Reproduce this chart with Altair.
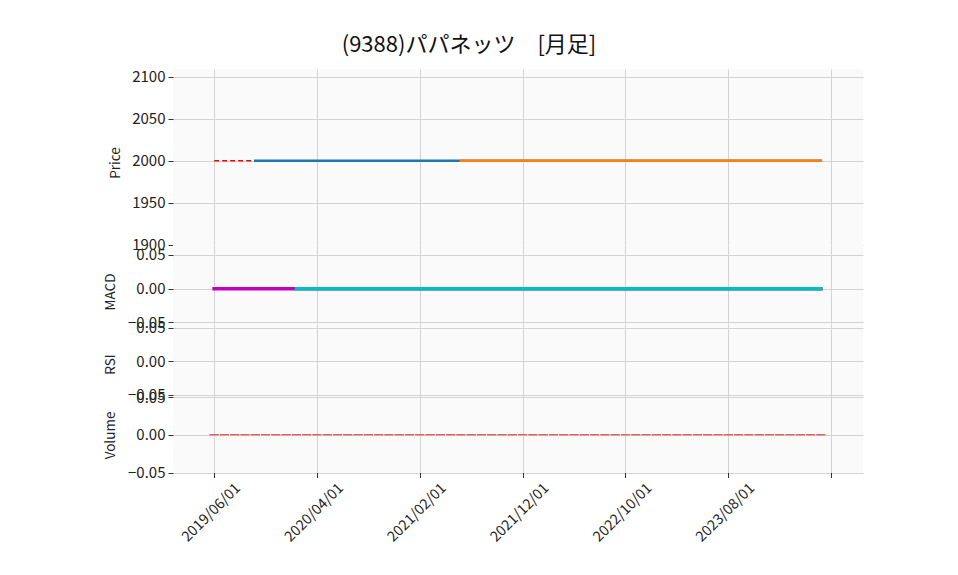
import altair as alt
import pandas as pd
import numpy as np

# ---------------- data ----------------
months = [
    "2019/06/01", "2019/07/01", "2019/08/01", "2019/09/01", "2019/10/01", "2019/11/01",
    "2019/12/01", "2020/01/01", "2020/02/01", "2020/03/01", "2020/04/01", "2020/05/01",
    "2020/06/01", "2020/07/01", "2020/08/01", "2020/09/01", "2020/10/01", "2020/11/01",
    "2020/12/01", "2021/01/01", "2021/02/01", "2021/03/01", "2021/04/01", "2021/05/01",
    "2021/06/01", "2021/07/01", "2021/08/01", "2021/09/01", "2021/10/01", "2021/11/01",
    "2021/12/01", "2022/01/01", "2022/02/01", "2022/03/01", "2022/04/01", "2022/05/01",
    "2022/06/01", "2022/07/01", "2022/08/01", "2022/09/01", "2022/10/01", "2022/11/01",
    "2022/12/01", "2023/01/01", "2023/02/01", "2023/03/01", "2023/04/01", "2023/05/01",
    "2023/06/01", "2023/07/01", "2023/08/01", "2023/09/01", "2023/10/01", "2023/11/01",
    "2023/12/01", "2024/01/01", "2024/02/01", "2024/03/01", "2024/04/01", "2024/05/01",
]
N = len(months)
nan = np.nan

close = [2000, 2000, 2000, 2000, 2000, 2000, 2000, 2000, 2000, 2000,
         2000, 2000, 2000, 2000, 2000, 2000, 2000, 2000, 2000, 2000,
         2000, 2000, 2000, 2000, 2000, 2000, 2000, 2000, 2000, 2000,
         2000, 2000, 2000, 2000, 2000, 2000, 2000, 2000, 2000, 2000,
         2000, 2000, 2000, 2000, 2000, 2000, 2000, 2000, 2000, 2000,
         2000, 2000, 2000, 2000, 2000, 2000, 2000, 2000, 2000, 2000]
ma5 = [nan, nan, nan, nan, 2000, 2000, 2000, 2000, 2000, 2000,
       2000, 2000, 2000, 2000, 2000, 2000, 2000, 2000, 2000, 2000,
       2000, 2000, 2000, 2000, 2000, 2000, 2000, 2000, 2000, 2000,
       2000, 2000, 2000, 2000, 2000, 2000, 2000, 2000, 2000, 2000,
       2000, 2000, 2000, 2000, 2000, 2000, 2000, 2000, 2000, 2000,
       2000, 2000, 2000, 2000, 2000, 2000, 2000, 2000, 2000, 2000]
ma25 = [nan, nan, nan, nan, nan, nan, nan, nan, nan, nan,
        nan, nan, nan, nan, nan, nan, nan, nan, nan, nan,
        nan, nan, nan, nan, 2000, 2000, 2000, 2000, 2000, 2000,
        2000, 2000, 2000, 2000, 2000, 2000, 2000, 2000, 2000, 2000,
        2000, 2000, 2000, 2000, 2000, 2000, 2000, 2000, 2000, 2000,
        2000, 2000, 2000, 2000, 2000, 2000, 2000, 2000, 2000, 2000]
macd = [0, 0, 0, 0, 0, 0, 0, 0, 0, 0,
        0, 0, 0, 0, 0, 0, 0, 0, 0, 0,
        0, 0, 0, 0, 0, 0, 0, 0, 0, 0,
        0, 0, 0, 0, 0, 0, 0, 0, 0, 0,
        0, 0, 0, 0, 0, 0, 0, 0, 0, 0,
        0, 0, 0, 0, 0, 0, 0, 0, 0, 0]
signal = [nan, nan, nan, nan, nan, nan, nan, nan, 0, 0,
          0, 0, 0, 0, 0, 0, 0, 0, 0, 0,
          0, 0, 0, 0, 0, 0, 0, 0, 0, 0,
          0, 0, 0, 0, 0, 0, 0, 0, 0, 0,
          0, 0, 0, 0, 0, 0, 0, 0, 0, 0,
          0, 0, 0, 0, 0, 0, 0, 0, 0, 0]
volume = [0, 0, 0, 0, 0, 0, 0, 0, 0, 0,
          0, 0, 0, 0, 0, 0, 0, 0, 0, 0,
          0, 0, 0, 0, 0, 0, 0, 0, 0, 0,
          0, 0, 0, 0, 0, 0, 0, 0, 0, 0,
          0, 0, 0, 0, 0, 0, 0, 0, 0, 0,
          0, 0, 0, 0, 0, 0, 0, 0, 0, 0]

x_ticks = [0, 10, 20, 30, 40, 50, 60]
x_tick_labels = [months[i] if i < N else "" for i in x_ticks]
price_ticks = [1900, 1950, 2000, 2050, 2100]
small_ticks = [-0.05, 0.0, 0.05]
title_text = "(9388)パパネッツ\u2002\u2002[月足]"

# long table: one row per (series, month)
series = {"close": close, "ma5": ma5, "ma25": ma25, "macd": macd,
          "signal": signal, "volume": volume}
rows = []
for name, vals in series.items():
    for i, v in enumerate(vals):
        rows.append({"series": name, "i": i, "month": months[i], "value": v,
                     "i0": i - 0.45, "i1": i + 0.45})
df = pd.DataFrame(rows)

FONT = "Noto Sans CJK JP"
W = 690
XDOM = [-4.0, 63.1]
GRID = "#d3d3d3"

label_expr = "[" + ",".join("'%s'" % s for s in x_tick_labels) + "][round(datum.value/10)]"

x_hidden = alt.Axis(values=x_ticks, labels=False, ticks=False, domain=False,
                    grid=True, gridColor=GRID, title=None)
x_bottom = alt.Axis(values=x_ticks, labelExpr=label_expr, labelAngle=-45,
                    labelAlign="center", labelBaseline="middle", labelPadding=35,
                    labelOffset=-3, ticks=True, tickSize=5, tickColor="#333",
                    domain=False, grid=True, gridColor=GRID, title=None,
                    labelFont=FONT, labelFontSize=14.5, labelColor="#222",
                    labelOverlap=False, labelFlush=False)


def yaxis(title, values, fmt, tx, ty):
    return alt.Axis(values=values, format=fmt, title=title, titleX=tx, titleY=ty,
                    titleAngle=-90, titleAlign="center", titleBaseline="middle",
                    titleFont=FONT, titleFontSize=13.5, titleFontWeight="normal",
                    titleColor="#222", labelFont=FONT, labelFontSize=15,
                    labelColor="#222", labelPadding=3, tickSize=5, tickColor="#333",
                    domain=False, grid=True, gridColor=GRID, labelOverlap=False,
                    labelFlush=False)


XS = alt.Scale(domain=XDOM, nice=False, zero=False)
base = alt.Chart(df)


def line_layer(name, y, color, width, dash=None):
    kw = dict(color=color, strokeWidth=width)
    if dash:
        kw["strokeDash"] = dash
    else:
        kw["strokeCap"] = "square"
    return base.transform_filter(alt.datum.series == name).mark_line(**kw).encode(
        x=alt.X("i:Q", scale=XS, axis=x_hidden), y=y)


# ---- price panel ----
PH = 176
py = alt.Y("value:Q", scale=alt.Scale(domain=[1899.6, 2109.5], nice=False, zero=False),
           axis=yaxis("Price", price_ticks, "d", -58, 93.5))
price = alt.layer(
    line_layer("close", py, "red", 1.5, [5, 3]),
    line_layer("ma5", py, "#1f77b4", 2.5),
    line_layer("ma25", py, "#ff7f0e", 2.5),
).properties(width=W, height=PH)

# ---- MACD panel ----
MH = 79
my = alt.Y("value:Q", scale=alt.Scale(domain=[-0.0525, 0.0648], nice=False, zero=False),
           axis=yaxis("MACD", small_ticks, ".2f", -63, 46.5))
macd_panel = alt.layer(
    line_layer("macd", my, "#bf00bf", 3.5),
    line_layer("signal", my, "#00bfbf", 3.5),
).properties(width=W, height=MH)

# ---- RSI panel (no data drawn) ----
RH = 73
ry = alt.Y("value:Q", scale=alt.Scale(domain=[-0.0534, 0.0555], nice=False, zero=False),
           axis=yaxis("RSI", small_ticks, ".2f", -63, 40))
rsi_panel = base.transform_filter(alt.datum.series == "macd").mark_line(
    opacity=0).encode(x=alt.X("i:Q", scale=XS, axis=x_hidden), y=ry
).properties(width=W, height=RH)

# ---- Volume panel ----
VH = 75.5
vy = alt.Y("value:Q", scale=alt.Scale(domain=[-0.05, 0.05], nice=False, zero=False),
           axis=yaxis("Volume", small_ticks, ".2f", -63, 38))
vol_panel = base.transform_filter(alt.datum.series == "volume").mark_rule(
    color="#e65050", strokeWidth=1.3).encode(
    x=alt.X("i0:Q", scale=XS, axis=x_bottom),
    x2="i1:Q",
    y=vy,
).properties(width=W, height=VH)

chart = alt.vconcat(price, macd_panel, rsi_panel, vol_panel, spacing=0,
                    bounds="flush").resolve_scale(
    y="independent"
).properties(
    title=alt.TitleParams(title_text, font=FONT, fontSize=22, fontWeight="normal",
                          color="#111", anchor="middle", dx=-14, offset=12),
    padding={"left": 95, "top": 26, "right": 5, "bottom": 5},
    background="white",
).configure_view(fill="#fafafa", strokeWidth=0)

chart.save("out.html", embed_options={"renderer": "svg", "actions": False})
